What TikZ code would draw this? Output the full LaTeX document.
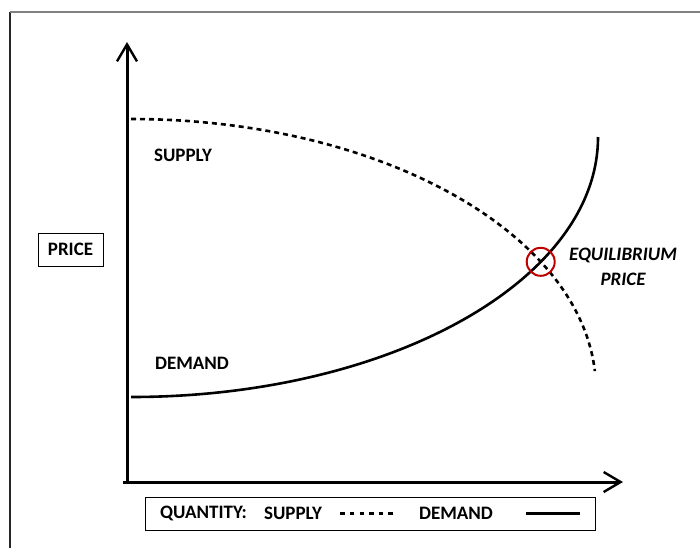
\documentclass[tikz,border=0pt]{standalone}
\usepackage{fontspec}
\setmainfont{Carlito}
\usetikzlibrary{arrows.meta, positioning, intersections}
\definecolor{eq-red}{RGB}{192,0,0}
\definecolor{frame-gray}{RGB}{128,128,128}

\begin{document}
\begin{tikzpicture}[
    x=0.5pt, y=0.5pt,
    axis/.style={line width=1.5pt, -{Straight Barb[length=8.5pt, width=10pt, line width=1.2pt]}},
    curve/.style={line width=1.3pt},
    dashcurve/.style={line width=1.3pt, dash pattern=on 2.5pt off 2pt},
    tag/.style={font=\bfseries\fontsize{9.5}{12.5}\selectfont, inner sep=1pt},
    eqtag/.style={font=\bfseries\itshape\fontsize{9.5}{12.5}\selectfont, inner sep=1pt, align=center},
    keybox/.style={rectangle, draw, line width=0.5pt}
]
\useasboundingbox (0,0) rectangle (700,548);

% Frame
\draw[black!85, line width=0.7pt] (10,0) -- (10,536.3);
\draw[frame-gray, line width=1pt] (10,536.3) -- (700,536.3);

% Axes
\coordinate (origin) at (127,66);
\coordinate (ytip) at (127,506);
\coordinate (xtip) at (623,66);
\draw[axis] (origin) -- (ytip);
\draw[axis] ([xshift=-2pt]origin) -- (xtip);

% Supply and demand curves
\draw[dashcurve, name path=supply] (131,429) arc[start angle=90, end angle=4, x radius=465, y radius=271];
\draw[curve, name path=demand] (131,151) arc[start angle=270, end angle=360, x radius=467, y radius=260];

% Equilibrium
\path[name intersections={of=supply and demand, by=eq}];
\draw[eq-red, line width=1pt] (eq) circle[radius=14];
\node[eqtag] (eqtext) at (623,281) {EQUILIBRIUM\\PRICE};

% Labels
\node[tag] (supplytext) at (183,393) {SUPPLY};
\node[tag] (demandtext) at (192,185) {DEMAND};
\node[tag, keybox, minimum width=32.5pt, minimum height=16.5pt] (price) at (70.5,298.5) {PRICE};

% Legend
\node[keybox, minimum width=225pt, minimum height=16.5pt] (legend) at (370,34.5) {};
\node[tag] (quantity) at (203.5,34.5) {QUANTITY:};
\node[tag] (legsupply) at (293,34.5) {SUPPLY};
\node[tag] (legdemand) at (456,34.5) {DEMAND};
\coordinate[right=8pt of legsupply] (dashstart);
\coordinate[right=35.5pt of legsupply] (dashend);
\coordinate[right=15.5pt of legdemand] (linestart);
\coordinate[right=42.5pt of legdemand] (lineend);
\draw[line width=1.2pt, dash pattern=on 2.2pt off 2.6pt] (dashstart) -- (dashend);
\draw[curve] (linestart) -- (lineend);

\end{tikzpicture}
\end{document}
